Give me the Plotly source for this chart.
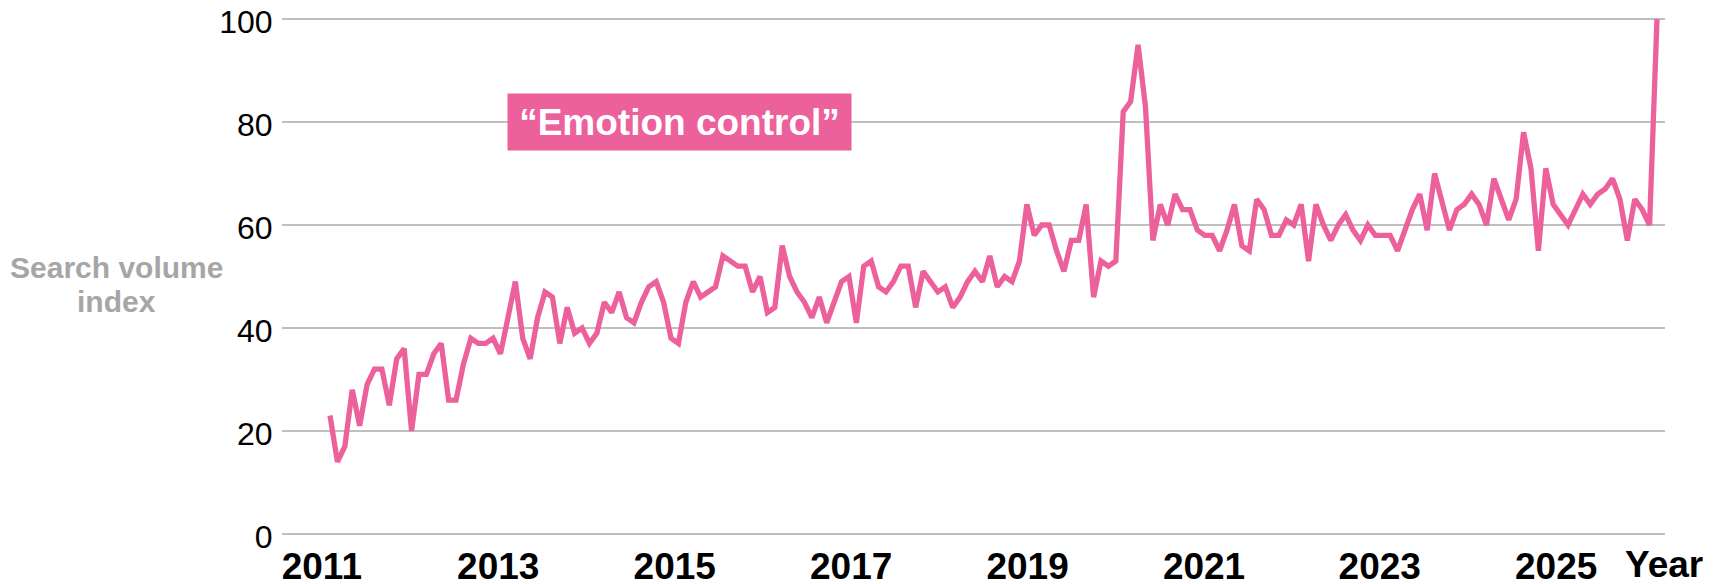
import plotly.graph_objects as go

# Monthly search volume index (2011 onwards)
values = [
    23, 14, 17, 28, 21, 29, 32, 32, 25, 34, 36, 20,
    31, 31, 35, 37, 26, 26, 33, 38, 37, 37, 38, 35,
    42, 49, 38, 34, 42, 47, 46, 37, 44, 39, 40, 37,
    39, 45, 43, 47, 42, 41, 45, 48, 49, 45, 38, 37,
    45, 49, 46, 47, 48, 54, 53, 52, 52, 47, 50, 43,
    44, 56, 50, 47, 45, 42, 46, 41, 45, 49, 50, 41,
    52, 53, 48, 47, 49, 52, 52, 44, 51, 49, 47, 48,
    44, 46, 49, 51, 49, 54, 48, 50, 49, 53, 64, 58,
    60, 60, 55, 51, 57, 57, 64, 46, 53, 52, 53, 82,
    84, 95, 83, 57, 64, 60, 66, 63, 63, 59, 58, 58,
    55, 59, 64, 56, 55, 65, 63, 58, 58, 61, 60, 64,
    53, 64, 60, 57, 60, 62, 59, 57, 60, 58, 58, 58,
    55, 59, 63, 66, 59, 70, 64, 59, 63, 64, 66, 64,
    60, 69, 65, 61, 65, 78, 71, 55, 71, 64, 62, 60,
    63, 66, 64, 66, 67, 69, 65, 57, 65, 63, 60, 100,
]
months = list(range(len(values)))

year_labels = ["2011", "2013", "2015", "2017", "2019", "2021", "2023", "2025"]
year_label_pos = [-1.1, 22.7, 46.5, 70.3, 94.1, 117.9, 141.6, 165.4]

y_ticks = [0, 20, 40, 60, 80, 100]

PINK = "#EC609C"
GRID = "#BFBFBF"
GREY_TEXT = "#A6A6A6"
FONT = "Arial, Liberation Sans, sans-serif"

fig = go.Figure()
fig.add_trace(go.Scatter(
    x=months, y=values, mode="lines",
    line=dict(color=PINK, width=5.3),
    hoverinfo="skip", showlegend=False, cliponaxis=False,
))

fig.update_layout(
    width=1715, height=584,
    margin=dict(l=274, r=58, t=9, b=56, autoexpand=False),
    paper_bgcolor="white", plot_bgcolor="white",
    font=dict(family=FONT, color="black"),
    xaxis=dict(
        range=[-6.475, 180.08], automargin=False,
        tickmode="array", tickvals=year_label_pos, ticktext=year_labels,
        showgrid=False, zeroline=False, showline=False,
        ticks="", ticklabelstandoff=5,
        ticklabeloverflow="allow",
        tickfont=dict(size=37, family=FONT, color="black", weight="bold"),
    ),
    yaxis=dict(
        range=[-0.4, 100.4], automargin=False,
        tickmode="array", tickvals=y_ticks,
        showgrid=True, gridcolor=GRID, gridwidth=1.6,
        zeroline=False, showline=False,
        ticks="outside", ticklen=2, tickcolor="rgba(0,0,0,0)",
        ticklabeloverflow="allow", ticklabelshift=3,
        tickfont=dict(size=32, family=FONT, color="black"),
    ),
    annotations=[
        dict(text="Search volume", xref="paper", yref="paper",
             x=-0.12, y=0.5165, xanchor="center", yanchor="middle",
             showarrow=False,
             font=dict(size=30, family=FONT, color=GREY_TEXT, weight="bold")),
        dict(text="index", xref="paper", yref="paper",
             x=-0.12, y=0.4524, xanchor="center", yanchor="middle",
             showarrow=False,
             font=dict(size=30, family=FONT, color=GREY_TEXT, weight="bold")),
        dict(text="Year", xref="paper", yref="paper",
             x=0.9993, y=-0.054, xanchor="center", yanchor="middle",
             showarrow=False,
             font=dict(size=37, family=FONT, color="black", weight="bold")),
        dict(text="\u201cEmotion control\u201d", xref="x", yref="y",
             x=47.1, y=80, xanchor="center", yanchor="middle",
             showarrow=False, bgcolor=PINK, width=341, height=54,
             font=dict(size=37, family=FONT, color="white", weight="bold")),
    ],
)

fig.write_html("out.html")
